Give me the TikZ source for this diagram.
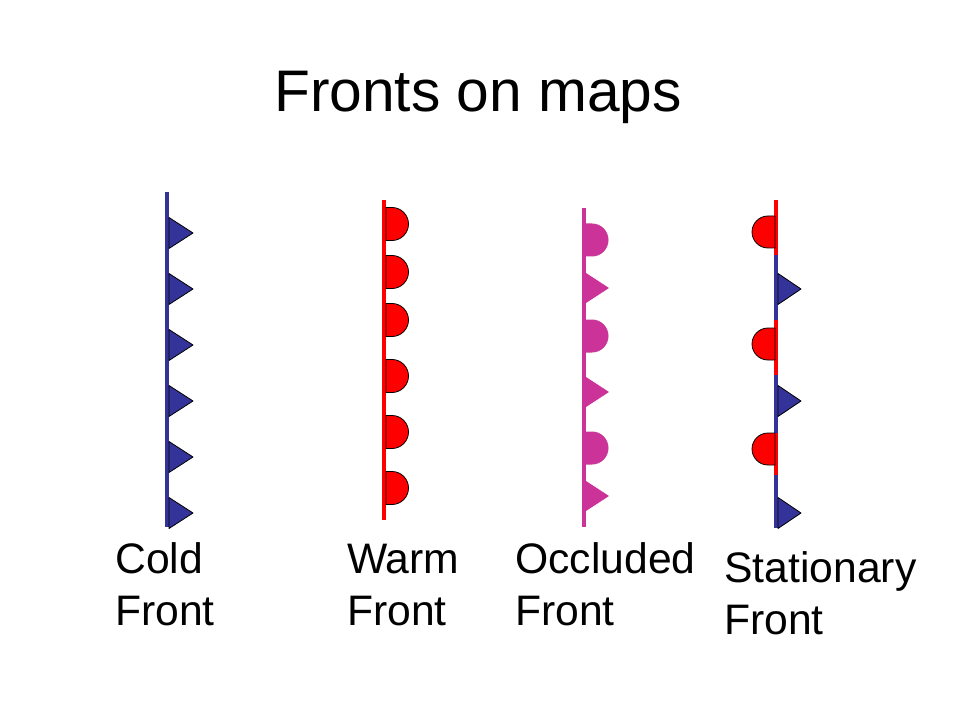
\documentclass[tikz,border=0pt]{standalone}
\usepackage{fontspec}
\setmainfont{Liberation Sans}
\definecolor{coldblue}{HTML}{333399}
\definecolor{warmred}{HTML}{FF0000}
\definecolor{occpink}{HTML}{CC3399}

\begin{document}
\begin{tikzpicture}[
  x=0.75pt, y=-0.75pt,
  frontline/.style={line width=3pt},
  coldtri/.style={fill=coldblue, draw=black, line width=0.6pt, line join=round},
  warmbump/.style={fill=warmred, draw=black, line width=0.6pt},
  occbump/.style={fill=occpink},
  frontlabel/.style={anchor=base west, align=left, inner sep=0pt,
                     font=\fontsize{32}{39}\selectfont}
]
\useasboundingbox (0,0) rectangle (960,720);

\node[anchor=base, inner sep=0pt, font=\fontsize{44}{53}\selectfont] (title) at (478,112) {Fronts on maps};

% cold front
\draw[frontline, coldblue] (167,192) -- (167,527);
\foreach \y in {233,289,345,401,457,513}
  \draw[coldtri] (169,\y-15.5) -- (193,\y) -- (169,\y+15.5) -- cycle;

% warm front
\draw[frontline, warmred] (384,200) -- (384,520);
\foreach \y in {224,272,320,376,432,488}
  \draw[warmbump] (386,\y+16.5) -- (386,\y-16.5) -- (392,\y-16.5)
    arc[start angle=90, end angle=-90, radius=12.375pt] -- cycle;

% occluded front
\draw[frontline, occpink] (584,208) -- (584,527);
\foreach \y in {240,336,448}
  \fill[occbump] (586,\y+16.5) -- (586,\y-16.5) -- (592,\y-16.5)
    arc[start angle=90, end angle=-90, radius=12.375pt] -- cycle;
\foreach \y in {288,392,496}
  \fill[occbump] (586,\y-15) -- (609,\y) -- (586,\y+15) -- cycle;

% stationary front
\draw[frontline, warmred] (776,200) -- (776,255) (776,320) -- (776,375) (776,433) -- (776,475);
\draw[frontline, coldblue] (776,255) -- (776,320) (776,375) -- (776,433) (776,475) -- (776,528);
\foreach \y in {232,344,449}
  \draw[warmbump] (775,\y-16) -- (768,\y-16)
    arc[start angle=90, end angle=270, radius=12pt] -- (775,\y+16) -- cycle;
\foreach \y in {289,401,513}
  \draw[coldtri] (778,\y-15.5) -- (801,\y) -- (778,\y+15.5) -- cycle;

\node[frontlabel] (cold) at (115,625) {Cold\\Front};
\node[frontlabel] (warm) at (347,625) {Warm\\Front};
\node[frontlabel] (occl) at (515,625) {Occluded\\Front};
\node[frontlabel] (stat) at (724,634) {Stationary\\Front};
\end{tikzpicture}
\end{document}
